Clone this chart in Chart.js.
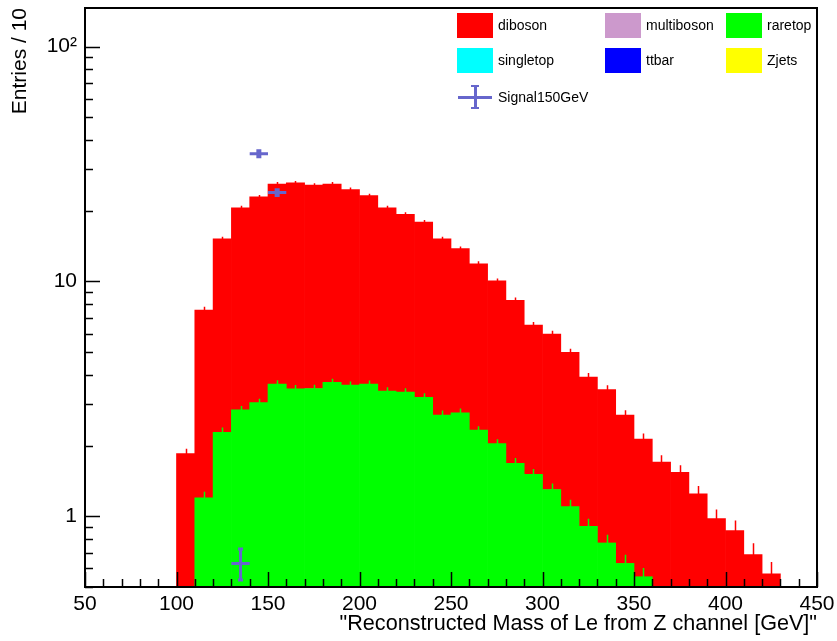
<!DOCTYPE html>
<html>
<head>
<meta charset="utf-8">
<script src="https://cdn.jsdelivr.net/npm/chart.js@4"></script>
<style>
body { margin: 0; background: #fff; }
#wrap { position: relative; width: 837px; height: 641px; }
.lbox { position: absolute; width: 36px; height: 25px; }
.ltxt { position: absolute; font: 14px "Liberation Sans", Arial, sans-serif; color: #000; line-height: 25px; white-space: nowrap; }
.lline { position: absolute; }
</style>
</head>
<body>
<div id="wrap">
  <canvas id="myChart"></canvas>
  <div id="legend"></div>
</div>
<script>
// bin centres of the 10 GeV bins, 50 - 450
var binCenters = [55, 65, 75, 85, 95, 105, 115, 125, 135, 145,
                  155, 165, 175, 185, 195, 205, 215, 225, 235, 245,
                  255, 265, 275, 285, 295, 305, 315, 325, 335, 345,
                  355, 365, 375, 385, 395, 405, 415, 425, 435, 445];

var raretop = [0, 0, 0, 0, 0, 0, 1.20, 2.28, 2.84, 3.05,
               3.66, 3.49, 3.50, 3.72, 3.62, 3.66, 3.41, 3.38, 3.21, 2.70,
               2.76, 2.33, 2.04, 1.68, 1.51, 1.30, 1.10, 0.906, 0.77, 0.63,
               0.553, 0.45, 0.38, 0.30, 0.25, 0.20, 0.15, 0.12, 0, 0];
var raretopErr = [0, 0, 0, 0, 0, 0, 0.073, 0.107, 0.11, 0.12,
                  0.14, 0.13, 0.13, 0.13, 0.13, 0.13, 0.13, 0.13, 0.13, 0.12,
                  0.12, 0.09, 0.09, 0.09, 0.08, 0.08, 0.075, 0.07, 0.065, 0.056,
                  0.05, 0, 0, 0, 0, 0, 0, 0, 0, 0];

var diboson = [0, 0, 0, 0, 0, 1.85, 6.36, 12.92, 17.76, 19.85,
               22.34, 22.81, 22.2, 22.28, 20.98, 19.54, 17.19, 15.92, 14.69, 12.5,
               11.04, 9.57, 8.01, 6.64, 5.01, 4.67, 3.89, 3.01, 2.69, 2.07,
               1.58, 1.25, 1.16, 0.945, 0.728, 0.669, 0.537, 0.449, 0, 0];
// error of the full stack (drawn on top of the diboson bars)
var stackErr = [0, 0, 0, 0, 0, 0.09, 0.25, 0.3, 0.4, 0.45,
                0.5, 0.5, 0.5, 0.5, 0.5, 0.45, 0.4, 0.4, 0.35, 0.3,
                0.3, 0.28, 0.25, 0.22, 0.2, 0.2, 0.18, 0.16, 0.15, 0.13,
                0.12, 0.12, 0.11, 0.1, 0.09, 0.09, 0.08, 0.07, 0, 0];

var signal = [0, 0, 0, 0, 0, 0, 0, 0, 0.63, 35.0,
              23.9, 0, 0, 0, 0, 0, 0, 0, 0, 0,
              0, 0, 0, 0, 0, 0, 0, 0, 0, 0,
              0, 0, 0, 0, 0, 0, 0, 0, 0, 0];
var signalErr = [0, 0, 0, 0, 0, 0, 0, 0, 0.095, 1.0,
                 0.7, 0, 0, 0, 0, 0, 0, 0, 0, 0,
                 0, 0, 0, 0, 0, 0, 0, 0, 0, 0,
                 0, 0, 0, 0, 0, 0, 0, 0, 0, 0];

var legendNames = ["diboson", "multiboson", "raretop", "singletop", "ttbar", "Zjets"];
var legendColors = ["#ff0000", "#cc99cc", "#00ff00", "#00ffff", "#0000ff", "#ffff00"];
var signalName = "Signal150GeV";
var signalColor = "#6666cc";

var yTicks = [0.5, 0.6, 0.7, 0.8, 0.9, 1, 2, 3, 4, 5, 6, 7, 8, 9,
              10, 20, 30, 40, 50, 60, 70, 80, 90, 100];
var yTickLabels = { 1: "1", 10: "10", 100: "10\u00b2" };
var xMajor = [50, 100, 150, 200, 250, 300, 350, 400, 450];

var fontFamily = '"Liberation Sans", Arial, Helvetica, sans-serif';

function points(vals) {
    return binCenters.map(function (c, i) { return { x: c, y: vals[i] }; });
}

function noPadding(scale) {
    scale.paddingTop = 0;
    scale.paddingBottom = 0;
    scale.paddingLeft = 0;
    scale.paddingRight = 0;
}

// ROOT style frame, inward ticks, stat error ticks and the signal points
var rootFrame = {
    id: "rootFrame",
    afterDatasetsDraw: function (chart) {
        var ctx = chart.ctx, a = chart.chartArea;
        var xs = chart.scales.x, ys = chart.scales.y;
        ctx.save();
        ctx.beginPath();
        ctx.rect(a.left, a.top, a.right - a.left, a.bottom - a.top);
        ctx.clip();

        // error ticks on the stacked histograms
        ctx.lineWidth = 1.5;
        [[raretopErr, "#00ff00", 0], [stackErr, "#ff0000", 1]].forEach(function (e) {
            ctx.strokeStyle = e[1];
            ctx.beginPath();
            binCenters.forEach(function (c, i) {
                if (!e[0][i]) return;
                var top = e[2] ? raretop[i] + diboson[i] : raretop[i];
                var px = Math.round(xs.getPixelForValue(c)) + 0.5;
                ctx.moveTo(px, ys.getPixelForValue(Math.max(top - e[0][i], 0.01)));
                ctx.lineTo(px, ys.getPixelForValue(top + e[0][i]));
            });
            ctx.stroke();
        });

        ctx.strokeStyle = signalColor;
        ctx.lineWidth = 3;
        signal.forEach(function (v, i) {
            if (v <= 0) return;
            var x0 = xs.getPixelForValue(binCenters[i] - 5);
            var x1 = xs.getPixelForValue(binCenters[i] + 5);
            var xc = xs.getPixelForValue(binCenters[i]);
            var yc = ys.getPixelForValue(v);
            var yt = ys.getPixelForValue(v + signalErr[i]);
            var yb = ys.getPixelForValue(v - signalErr[i]);
            ctx.beginPath();
            ctx.moveTo(x0, yc); ctx.lineTo(x1, yc);
            ctx.moveTo(xc, yt); ctx.lineTo(xc, yb);
            ctx.moveTo(xc - 2.5, yt); ctx.lineTo(xc + 2.5, yt);
            ctx.moveTo(xc - 2.5, yb); ctx.lineTo(xc + 2.5, yb);
            ctx.stroke();
        });
        ctx.restore();

        ctx.save();
        ctx.strokeStyle = "#000";
        ctx.lineWidth = 1.5;
        ctx.beginPath();
        yTicks.forEach(function (t) {
            var py = Math.round(ys.getPixelForValue(t)) + 0.5;
            var len = yTickLabels[t] ? 15 : 8;
            ctx.moveTo(a.left, py); ctx.lineTo(a.left + len, py);
        });
        for (var t = 50; t <= 450; t += 10) {
            var px = Math.round(xs.getPixelForValue(t)) + 0.5;
            var len = xMajor.indexOf(t) >= 0 ? 15 : 8;
            ctx.moveTo(px, a.bottom); ctx.lineTo(px, a.bottom - len);
        }
        ctx.stroke();

        ctx.lineWidth = 2;
        ctx.strokeRect(a.left, a.top, a.right - a.left, a.bottom - a.top);
        ctx.restore();
    }
};

new Chart("myChart", {
    type: "bar",
    data: {
        datasets: [{
            label: "raretop",
            data: points(raretop),
            backgroundColor: "#00ff00",
            borderWidth: 0,
            barPercentage: 1.0,
            categoryPercentage: 1.0
        }, {
            label: "diboson",
            data: points(diboson),
            backgroundColor: "#ff0000",
            borderWidth: 0,
            barPercentage: 1.0,
            categoryPercentage: 1.0
        }]
    },
    options: {
        responsive: true,
        maintainAspectRatio: false,
        animation: false,
        layout: { padding: { top: 8, right: 20, left: 0, bottom: 0 } },
        plugins: {
            legend: { display: false },
            tooltip: { enabled: false }
        },
        scales: {
            x: {
                type: "linear",
                stacked: true,
                min: 50,
                max: 450,
                offset: false,
                grid: { display: false, drawTicks: false },
                border: { display: false },
                ticks: {
                    stepSize: 50,
                    padding: 5,
                    color: "#000",
                    maxRotation: 0,
                    font: { family: fontFamily, size: 21 }
                },
                title: {
                    display: true,
                    text: "\"Reconstructed Mass of Le from Z channel [GeV]\"",
                    align: "end",
                    color: "#000",
                    padding: { top: 0, bottom: 4 },
                    font: { family: fontFamily, size: 21.6 }
                },
                afterFit: function (scale) { scale.height = 54; noPadding(scale); }
            },
            y: {
                type: "logarithmic",
                stacked: true,
                min: 0.5,
                max: 146,
                grid: { display: false, drawTicks: false },
                border: { display: false },
                afterBuildTicks: function (scale) {
                    scale.ticks = yTicks.map(function (v) { return { value: v }; });
                },
                ticks: {
                    autoSkip: false,
                    padding: 8,
                    color: "#000",
                    font: { family: fontFamily, size: 21 },
                    callback: function (value) { return yTickLabels[value] || ""; }
                },
                title: {
                    display: true,
                    text: "Entries / 10",
                    align: "end",
                    color: "#000",
                    padding: { top: 8, bottom: 0 },
                    font: { family: fontFamily, size: 21 }
                },
                afterFit: function (scale) { scale.width = 85; noPadding(scale); }
            }
        }
    },
    plugins: [rootFrame]
});

// legend in the ROOT layout: three columns
var colX = [457, 605, 726];
var rowY = [13, 48];
var legend = document.getElementById("legend");
legendNames.forEach(function (name, i) {
    var c = i % 3, r = Math.floor(i / 3);
    var box = document.createElement("div");
    box.className = "lbox";
    box.style.left = colX[c] + "px";
    box.style.top = rowY[r] + "px";
    box.style.background = legendColors[i];
    legend.appendChild(box);
    var txt = document.createElement("div");
    txt.className = "ltxt";
    txt.style.left = (colX[c] + 41) + "px";
    txt.style.top = rowY[r] + "px";
    txt.textContent = name;
    legend.appendChild(txt);
});
var sy = 97;
[[458, sy - 1.5, 34, 3], [473.5, sy - 12, 3, 24], [471, sy - 12, 8, 2], [471, sy + 10, 8, 2]].forEach(function (s) {
    var d = document.createElement("div");
    d.className = "lline";
    d.style.left = s[0] + "px"; d.style.top = s[1] + "px";
    d.style.width = s[2] + "px"; d.style.height = s[3] + "px";
    d.style.background = signalColor;
    legend.appendChild(d);
});
var stxt = document.createElement("div");
stxt.className = "ltxt";
stxt.style.left = (colX[0] + 41) + "px";
stxt.style.top = (sy - 12.5) + "px";
stxt.textContent = signalName;
legend.appendChild(stxt);
</script>
</body>
</html>
